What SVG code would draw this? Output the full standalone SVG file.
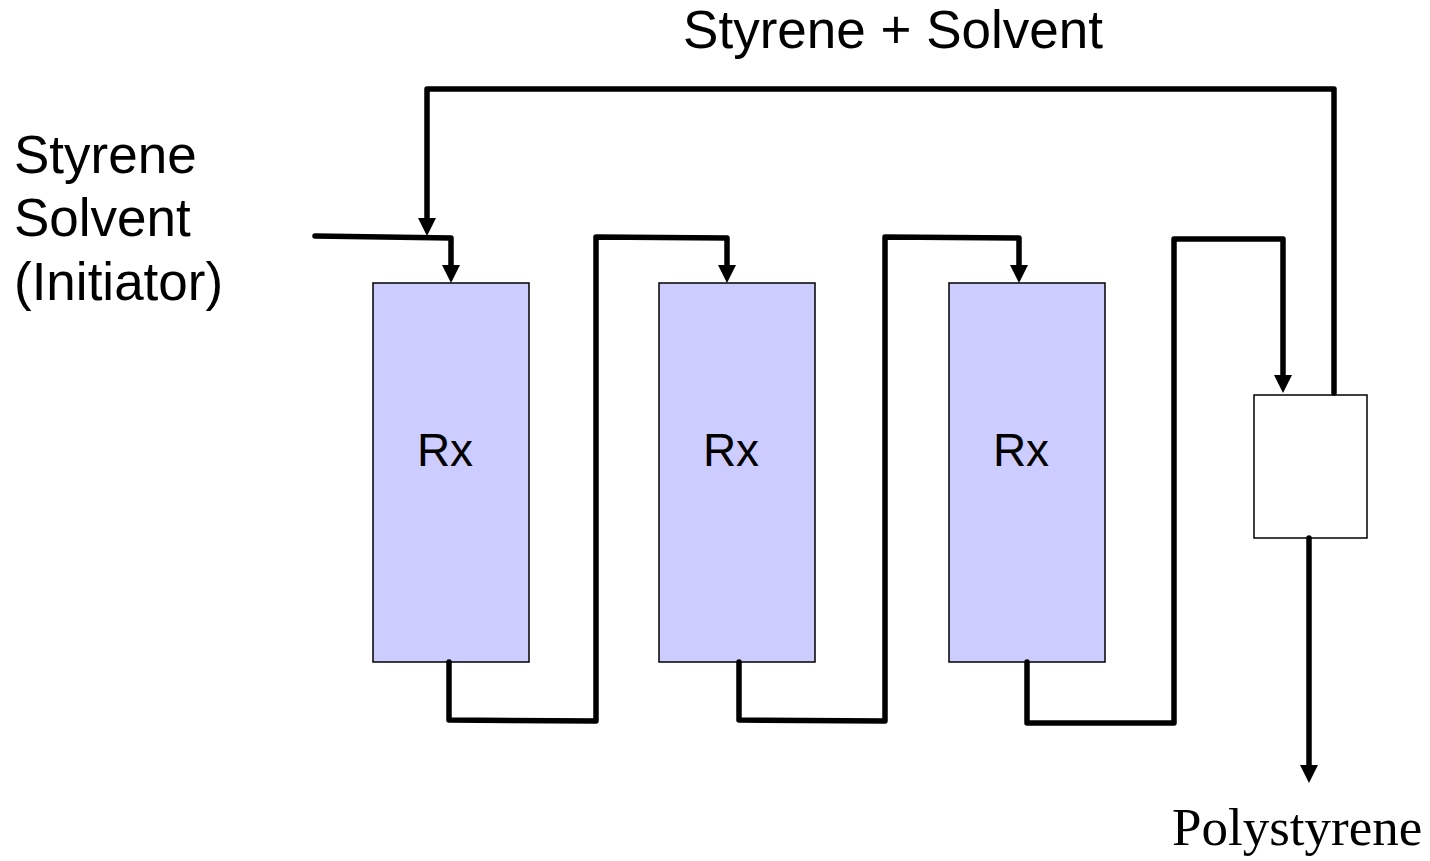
<svg xmlns="http://www.w3.org/2000/svg" width="1430" height="861" viewBox="0 0 1430 861">
<style>
.rx{fill:#ccccff;stroke:#000;stroke-width:1.5}
.sep{fill:#fff;stroke:#000;stroke-width:1.5}
.ln{fill:none;stroke:#000;stroke-width:5.5;stroke-linejoin:round;stroke-linecap:round}
.t{font-family:"Liberation Sans",Arial,sans-serif;font-size:53px;fill:#000}
.rt{font-family:"Liberation Sans",Arial,sans-serif;font-size:46px;fill:#000}
.ps{font-family:"Liberation Serif","Times New Roman",serif;font-size:53px;fill:#000}
</style>
<defs>
<marker id="ah" viewBox="0 0 18 18" refX="6" refY="9" markerWidth="18" markerHeight="18" orient="auto" markerUnits="userSpaceOnUse">
<path d="M0,0 L18,9 L0,18 z" fill="#000"/>
</marker>
</defs>
<g id="rx1"><rect class="rx" x="373" y="283" width="156" height="379"/><text class="rt" x="445" y="466" text-anchor="middle">Rx</text></g>
<g id="rx2"><rect class="rx" x="659" y="283" width="156" height="379"/><text class="rt" x="731" y="466" text-anchor="middle">Rx</text></g>
<g id="rx3"><rect class="rx" x="949" y="283" width="156" height="379"/><text class="rt" x="1021" y="466" text-anchor="middle">Rx</text></g>
<g id="separator"><rect class="sep" x="1254" y="395" width="113" height="143"/></g>
<g id="connectors">
<path class="ln" d="M315,236 L451,238 L451,271" marker-end="url(#ah)"/>
<path class="ln" d="M1334,393 L1334,89 L427,89 L427,224" marker-end="url(#ah)"/>
<path class="ln" d="M449,662 L449,720 L596,721 L596,237 L727,238 L727,271" marker-end="url(#ah)"/>
<path class="ln" d="M739,662 L739,720 L885,721 L885,237 L1019,238 L1019,271" marker-end="url(#ah)"/>
<path class="ln" d="M1027,662 L1027,723 L1174,723 L1174,239 L1283,239 L1283,381" marker-end="url(#ah)"/>
<path class="ln" d="M1309,538 L1309,771" marker-end="url(#ah)"/>
</g>
<g id="labels">
<text class="t" x="893" y="48" text-anchor="middle">Styrene + Solvent</text>
<text class="t" x="14" y="173">Styrene</text>
<text class="t" x="14" y="236">Solvent</text>
<text class="t" x="14" y="300">(Initiator)</text>
<text class="ps" x="1172" y="845">Polystyrene</text>
</g>
</svg>
